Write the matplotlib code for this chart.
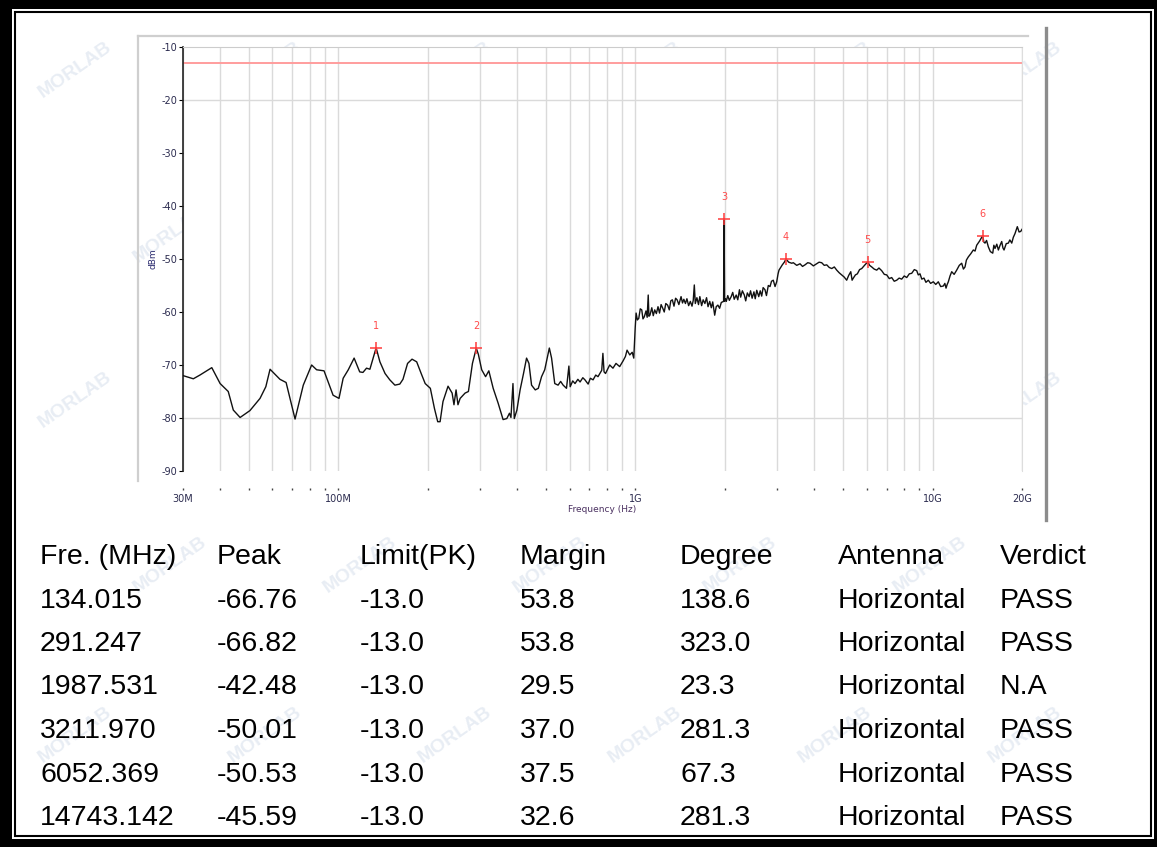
"""
    Radiated spurious emission plot (30 MHz - 20 GHz) with the peak table below.

    Saves the figure as out.png.
"""

from __future__ import annotations
import matplotlib
matplotlib.use('Agg')
import matplotlib.pyplot as plt
from matplotlib.patches import Rectangle
from matplotlib.lines import Line2D
from matplotlib.ticker import LogLocator, NullFormatter


# ============================================================
# Data
# ============================================================

TRACE_MHZ = [
    30, 32.5, 34.2, 37.5, 40, 42.6, 44.3, 46.7, 50.4, 54.5, 57, 58.9, 63.6,
    66.7, 71.5, 76.2, 81.3, 84.5, 89.5, 96, 100.5, 103.8, 108, 113, 118, 121,
    124.4, 127.7, 134.015, 138, 143.6, 149, 155, 161, 165, 171, 177, 183.5,
    190, 196, 204, 210.6, 216, 220, 225, 234, 241.5, 245, 249, 252.7, 257,
    267, 274, 282.7, 291.247, 296, 303.7, 313, 321, 332, 345, 358.5, 369,
    376.6, 381, 387, 391, 399, 409, 420, 430, 438, 447, 460, 471, 483, 495,
    513, 522, 535, 549, 560, 571, 586, 597, 603, 615, 626, 640, 651, 665, 676,
    693, 705, 720, 735, 748, 770, 777, 784, 793, 819, 840, 860, 885, 909, 925,
    937, 957, 975, 987, 998,
    1005, 1015, 1026, 1038, 1050, 1060, 1071, 1085, 1095, 1104, 1110, 1119,
    1135, 1148, 1161, 1176, 1191, 1205, 1220, 1236, 1250, 1265, 1283, 1300,
    1315, 1331, 1348, 1365, 1381, 1400, 1424, 1440, 1455, 1473, 1490, 1510,
    1530, 1550, 1565, 1578, 1590, 1610, 1630, 1647, 1670, 1690, 1713, 1735,
    1755, 1778, 1800, 1820, 1848, 1870, 1894, 1920, 1945, 1980, 1987.531,
    1995, 2010, 2022, 2045, 2070, 2100, 2125, 2150, 2183, 2210, 2239, 2260,
    2290, 2325, 2350, 2380, 2414, 2440, 2470, 2505, 2530, 2560, 2600, 2630,
    2660, 2690, 2729, 2760, 2800, 2838, 2870, 2910, 2950, 2988, 3020, 3042,
    3080, 3121, 3170, 3211.970, 3280, 3357,
    3399, 3490, 3580, 3650, 3722, 3800, 3870, 3970, 4075, 4150, 4235, 4320,
    4403, 4490, 4578, 4670, 4758, 4850, 4947, 5040, 5140, 5220, 5305, 5360,
    5412, 5500, 5583, 5680, 5776, 5900, 6052.369, 6140, 6241, 6360, 6487,
    6600, 6741, 6880, 7010, 7150, 7285, 7430, 7574, 7720, 7872, 8030, 8186,
    8350, 8508, 8680, 8845, 8950, 9073, 9200, 9357, 9500, 9676, 9850, 10057,
    10250, 10455, 10650, 10869, 11000, 11100, 11200, 11300, 11450, 11600,
    11820, 12056, 12300, 12533, 12700, 12859, 13000, 13194, 13450, 13713,
    13900, 14079, 14400, 14743.142, 14880, 15017, 15200, 15406, 15650, 15943,
    16080, 16230, 16450, 16654, 16850, 17090, 17250, 17400, 17700, 17994,
    18200, 18472, 18700, 18945, 19100, 19287, 19550, 19800, 20000,
]

TRACE_DBM = [
    -72.0, -72.6, -71.9, -70.5, -73.5, -75.0, -78.5, -79.9, -78.6, -76.3,
    -74.1, -70.8, -72.7, -73.3, -80.2, -73.8, -70.0, -70.9, -71.1, -75.7,
    -76.3, -72.5, -70.9, -68.7, -71.3, -71.4, -70.6, -70.8, -66.76, -69.4,
    -71.6, -72.8, -73.8, -73.6, -72.7, -69.7, -68.9, -69.4, -71.6, -73.5,
    -74.4, -78.2, -80.7, -80.7, -76.9, -74.0, -75.3, -77.5, -74.7, -77.5,
    -76.3, -75.3, -75.0, -69.7, -66.82, -68.0, -70.9, -72.2, -71.1, -74.4,
    -77.2, -80.3, -80.1, -79.1, -79.9, -73.5, -80.1, -78.5, -74.7, -71.6,
    -68.7, -69.7, -73.8, -74.7, -74.4, -72.2, -70.9, -66.8, -68.7, -73.5,
    -73.8, -73.1, -73.8, -74.4, -70.2, -74.1, -73.0, -73.5, -72.7, -73.2,
    -72.4, -72.8, -73.6, -72.5, -72.8, -71.9, -72.2, -71.0, -67.8, -71.3,
    -71.6, -70.0, -70.6, -69.7, -70.3, -69.2, -68.4, -67.2, -68.1, -67.6,
    -68.7, -63.0,
    -60.2, -61.5, -61.2, -59.4, -59.6, -61.3, -60.9, -59.8, -61.0, -56.8,
    -60.8, -60.6, -59.2, -60.7, -59.6, -60.3, -59.0, -60.2, -58.6, -59.3,
    -60.0, -58.4, -58.7, -59.6, -57.9, -57.7, -58.9, -57.4, -57.7, -58.6,
    -57.1, -58.3, -57.6, -58.4, -57.5, -58.8, -58.0, -58.9, -57.8, -54.9,
    -58.4, -57.3, -58.6, -57.1, -58.8, -57.7, -58.4, -57.3, -59.0, -58.0,
    -59.2, -58.1, -60.6, -59.0, -58.7, -59.3, -58.2, -58.0, -42.48, -58.0,
    -57.5, -58.0, -56.9, -57.8, -57.1, -56.3, -57.6, -56.8, -57.7, -55.8,
    -57.2, -56.0, -56.8, -57.9, -56.4, -57.1, -56.0, -57.4, -56.2, -57.5,
    -55.9, -57.1, -56.0, -57.0, -55.4, -55.8, -56.9, -55.0, -55.2, -54.2,
    -54.0, -55.2, -54.3, -52.8, -52.1, -51.6, -51.1, -50.6, -50.01, -50.6,
    -50.8,
    -50.7, -51.2, -50.9, -51.4, -51.1, -50.7, -50.8, -51.3, -50.9, -50.6,
    -50.7, -51.2, -51.1, -51.6, -51.8, -51.5, -52.1, -52.6, -53.0, -53.4,
    -54.0, -53.1, -52.4, -54.0, -53.6, -53.0, -52.8, -52.0, -51.8, -51.2,
    -50.53, -51.2, -51.5, -51.9, -52.1, -51.7, -52.2, -52.9, -53.0, -53.7,
    -53.5, -54.2, -54.0, -53.6, -53.8, -53.2, -53.5, -52.8, -52.7, -52.0,
    -52.2, -53.0, -52.8, -53.8, -53.6, -54.4, -54.0, -54.6, -54.3, -54.8,
    -54.3, -55.2, -55.1, -54.6, -55.5, -54.8, -54.3, -53.2, -52.4, -52.9,
    -52.1, -51.2, -50.8, -51.9, -51.5, -50.2, -49.6, -49.0, -48.3, -48.5,
    -47.4, -46.6, -45.59, -46.8, -47.0, -46.5, -47.7, -48.6, -48.9, -47.4,
    -48.0, -47.2, -48.3, -47.5, -46.7, -47.9, -48.3, -47.1, -47.0, -46.4,
    -47.0, -45.9, -45.2, -44.6, -43.9, -44.9, -44.8, -44.4,
]

LIMIT_DBM = -13.0

# Peak table
TABLE_HEADER = ['Fre. (MHz)', 'Peak', 'Limit(PK)', 'Margin', 'Degree',
                'Antenna', 'Verdict']
PEAK_FREQ = ['134.015', '291.247', '1987.531', '3211.970', '6052.369',
             '14743.142']
PEAK_LEVEL = ['-66.76', '-66.82', '-42.48', '-50.01', '-50.53', '-45.59']
PEAK_LIMIT = ['-13.0', '-13.0', '-13.0', '-13.0', '-13.0', '-13.0']
PEAK_MARGIN = ['53.8', '53.8', '29.5', '37.0', '37.5', '32.6']
PEAK_DEGREE = ['138.6', '323.0', '23.3', '281.3', '67.3', '281.3']
PEAK_ANTENNA = ['Horizontal'] * 6
PEAK_VERDICT = ['PASS', 'PASS', 'N.A', 'PASS', 'PASS', 'PASS']

X_TICKS_HZ = [30e6, 100e6, 1e9, 10e9, 20e9]
X_TICK_LABELS = ['30M', '100M', '1G', '10G', '20G']
Y_TICKS = [-10, -20, -30, -40, -50, -60, -70, -80, -90]


# ============================================================
# Layout (pixel based, figure is 1157 x 847)
# ============================================================

W, H = 1157, 847


def fx(x: float) -> float:
    """Pixel x -> figure fraction."""
    return x / W


def fy(y: float) -> float:
    """Pixel y (from top) -> figure fraction."""
    return 1 - y / H


def draw_frame(fig) -> None:
    """Double black border plus the grey screenshot panel edges."""
    fig.patch.set_facecolor('black')
    fig.add_artist(Rectangle((fx(11.7), fy(839)), fx(1154) - fx(11.7),
                             fy(9.3) - fy(839), transform=fig.transFigure,
                             facecolor='white', edgecolor='none', zorder=-10))
    fig.add_artist(Rectangle((fx(14.5), fy(835.5)), fx(1151) - fx(14.5),
                             fy(12) - fy(835.5), transform=fig.transFigure,
                             facecolor='none', edgecolor='black', lw=1.5,
                             zorder=5))

    # grey panel edges of the analyser screenshot
    grey = '#cfcfcf'
    fig.add_artist(Line2D([fx(138), fx(1028)], [fy(36), fy(36)],
                          transform=fig.transFigure, color=grey, lw=1.6))
    fig.add_artist(Line2D([fx(138), fx(138)], [fy(36), fy(481)],
                          transform=fig.transFigure, color=grey, lw=1.6))
    fig.add_artist(Line2D([fx(1046), fx(1046)], [fy(28), fy(520)],
                          transform=fig.transFigure, color='#8c8c8c', lw=2.4))


def draw_watermarks(fig) -> None:
    """Faint tiled MORLAB watermark, kept inside the frame."""
    rows = [70, 235, 400, 565, 735]
    for r, y in enumerate(rows):
        offset = 95 if r % 2 else 0
        for x in range(75 + offset, 1095, 190):
            fig.text(fx(x), fy(y), 'MORLAB', rotation=35, fontsize=14,
                     fontweight='bold', color='#e8edf4', ha='center',
                     va='center', zorder=-5, family='Liberation Sans')


def draw_chart(fig) -> None:
    """Spectrum trace, limit line and peak markers."""
    ax = fig.add_axes([fx(183), fy(471), fx(1022) - fx(183), fy(47) - fy(471)])
    ax.set_facecolor('white')
    ax.set_zorder(2)

    freq_hz = [f * 1e6 for f in TRACE_MHZ]
    ax.plot(freq_hz, TRACE_DBM, color='#111111', lw=1.0, zorder=3)
    ax.axhline(LIMIT_DBM, color='#ff9d9d', lw=1.4, zorder=2)

    for i, (f, p) in enumerate(zip(PEAK_FREQ, PEAK_LEVEL)):
        fh = float(f) * 1e6
        pv = float(p)
        ax.plot(fh, pv, marker='+', ms=8, mew=1.1, color='#ff3b3b', zorder=4)
        ax.annotate(str(i + 1), (fh, pv), xytext=(0, 22),
                    textcoords='offset pixels', ha='center', va='center',
                    fontsize=7, color='#ff4a4a')

    ax.set_xscale('log')
    ax.set_xlim(30e6, 20e9)
    ax.set_ylim(-90, -10)

    ax.set_xticks(X_TICKS_HZ)
    ax.set_xticklabels(X_TICK_LABELS)
    ax.xaxis.set_minor_locator(LogLocator(base=10, subs=range(2, 10)))
    ax.xaxis.set_minor_formatter(NullFormatter())
    ax.set_yticks(Y_TICKS)
    ax.set_yticklabels([str(v) for v in Y_TICKS])

    ax.grid(which='both', axis='x', color='#dadada', lw=1.0, zorder=1)
    for yv in (-20, -80):
        ax.axhline(yv, color='#dadada', lw=1.0, zorder=1)

    ax.spines['left'].set_color('#222222')
    ax.spines['left'].set_linewidth(1.2)
    ax.spines['top'].set_color('#cccccc')
    ax.spines['right'].set_color('#dddddd')
    ax.spines['bottom'].set_position(('outward', 12))
    ax.spines['bottom'].set_visible(False)

    tick_col = '#2b2b4f'
    ax.tick_params(axis='y', which='major', length=3, width=0.8,
                   labelsize=7, labelcolor=tick_col, pad=1)
    ax.tick_params(axis='x', which='both', length=1.5, width=1.0,
                   color='#444444', labelsize=7, labelcolor=tick_col, pad=3)

    ax.set_xlabel('Frequency (Hz)', fontsize=6.5, color='#4a3060', labelpad=1)
    ax.set_ylabel('dBm', fontsize=6.5, color='#2b2b6f', labelpad=3)


def draw_table(fig) -> None:
    """Peak summary table below the chart."""
    col_x = [40, 217, 360, 520, 680, 838, 1000]
    base_y = 564
    step = 43.5
    columns = [PEAK_FREQ, PEAK_LEVEL, PEAK_LIMIT, PEAK_MARGIN, PEAK_DEGREE,
               PEAK_ANTENNA, PEAK_VERDICT]

    rows = [TABLE_HEADER] + [list(r) for r in zip(*columns)]
    for r, row in enumerate(rows):
        y = base_y + r * step
        for x, txt in zip(col_x, row):
            fig.text(fx(x), fy(y), txt, ha='left', va='baseline',
                     fontsize=20.5, color='black', family='Liberation Sans')


def main() -> None:
    fig = plt.figure(figsize=(W / 100, H / 100), dpi=100)
    draw_frame(fig)
    draw_watermarks(fig)
    draw_chart(fig)
    draw_table(fig)
    fig.savefig('out.png', dpi=100, facecolor=fig.get_facecolor())
    plt.close(fig)


if __name__ == '__main__':
    main()
